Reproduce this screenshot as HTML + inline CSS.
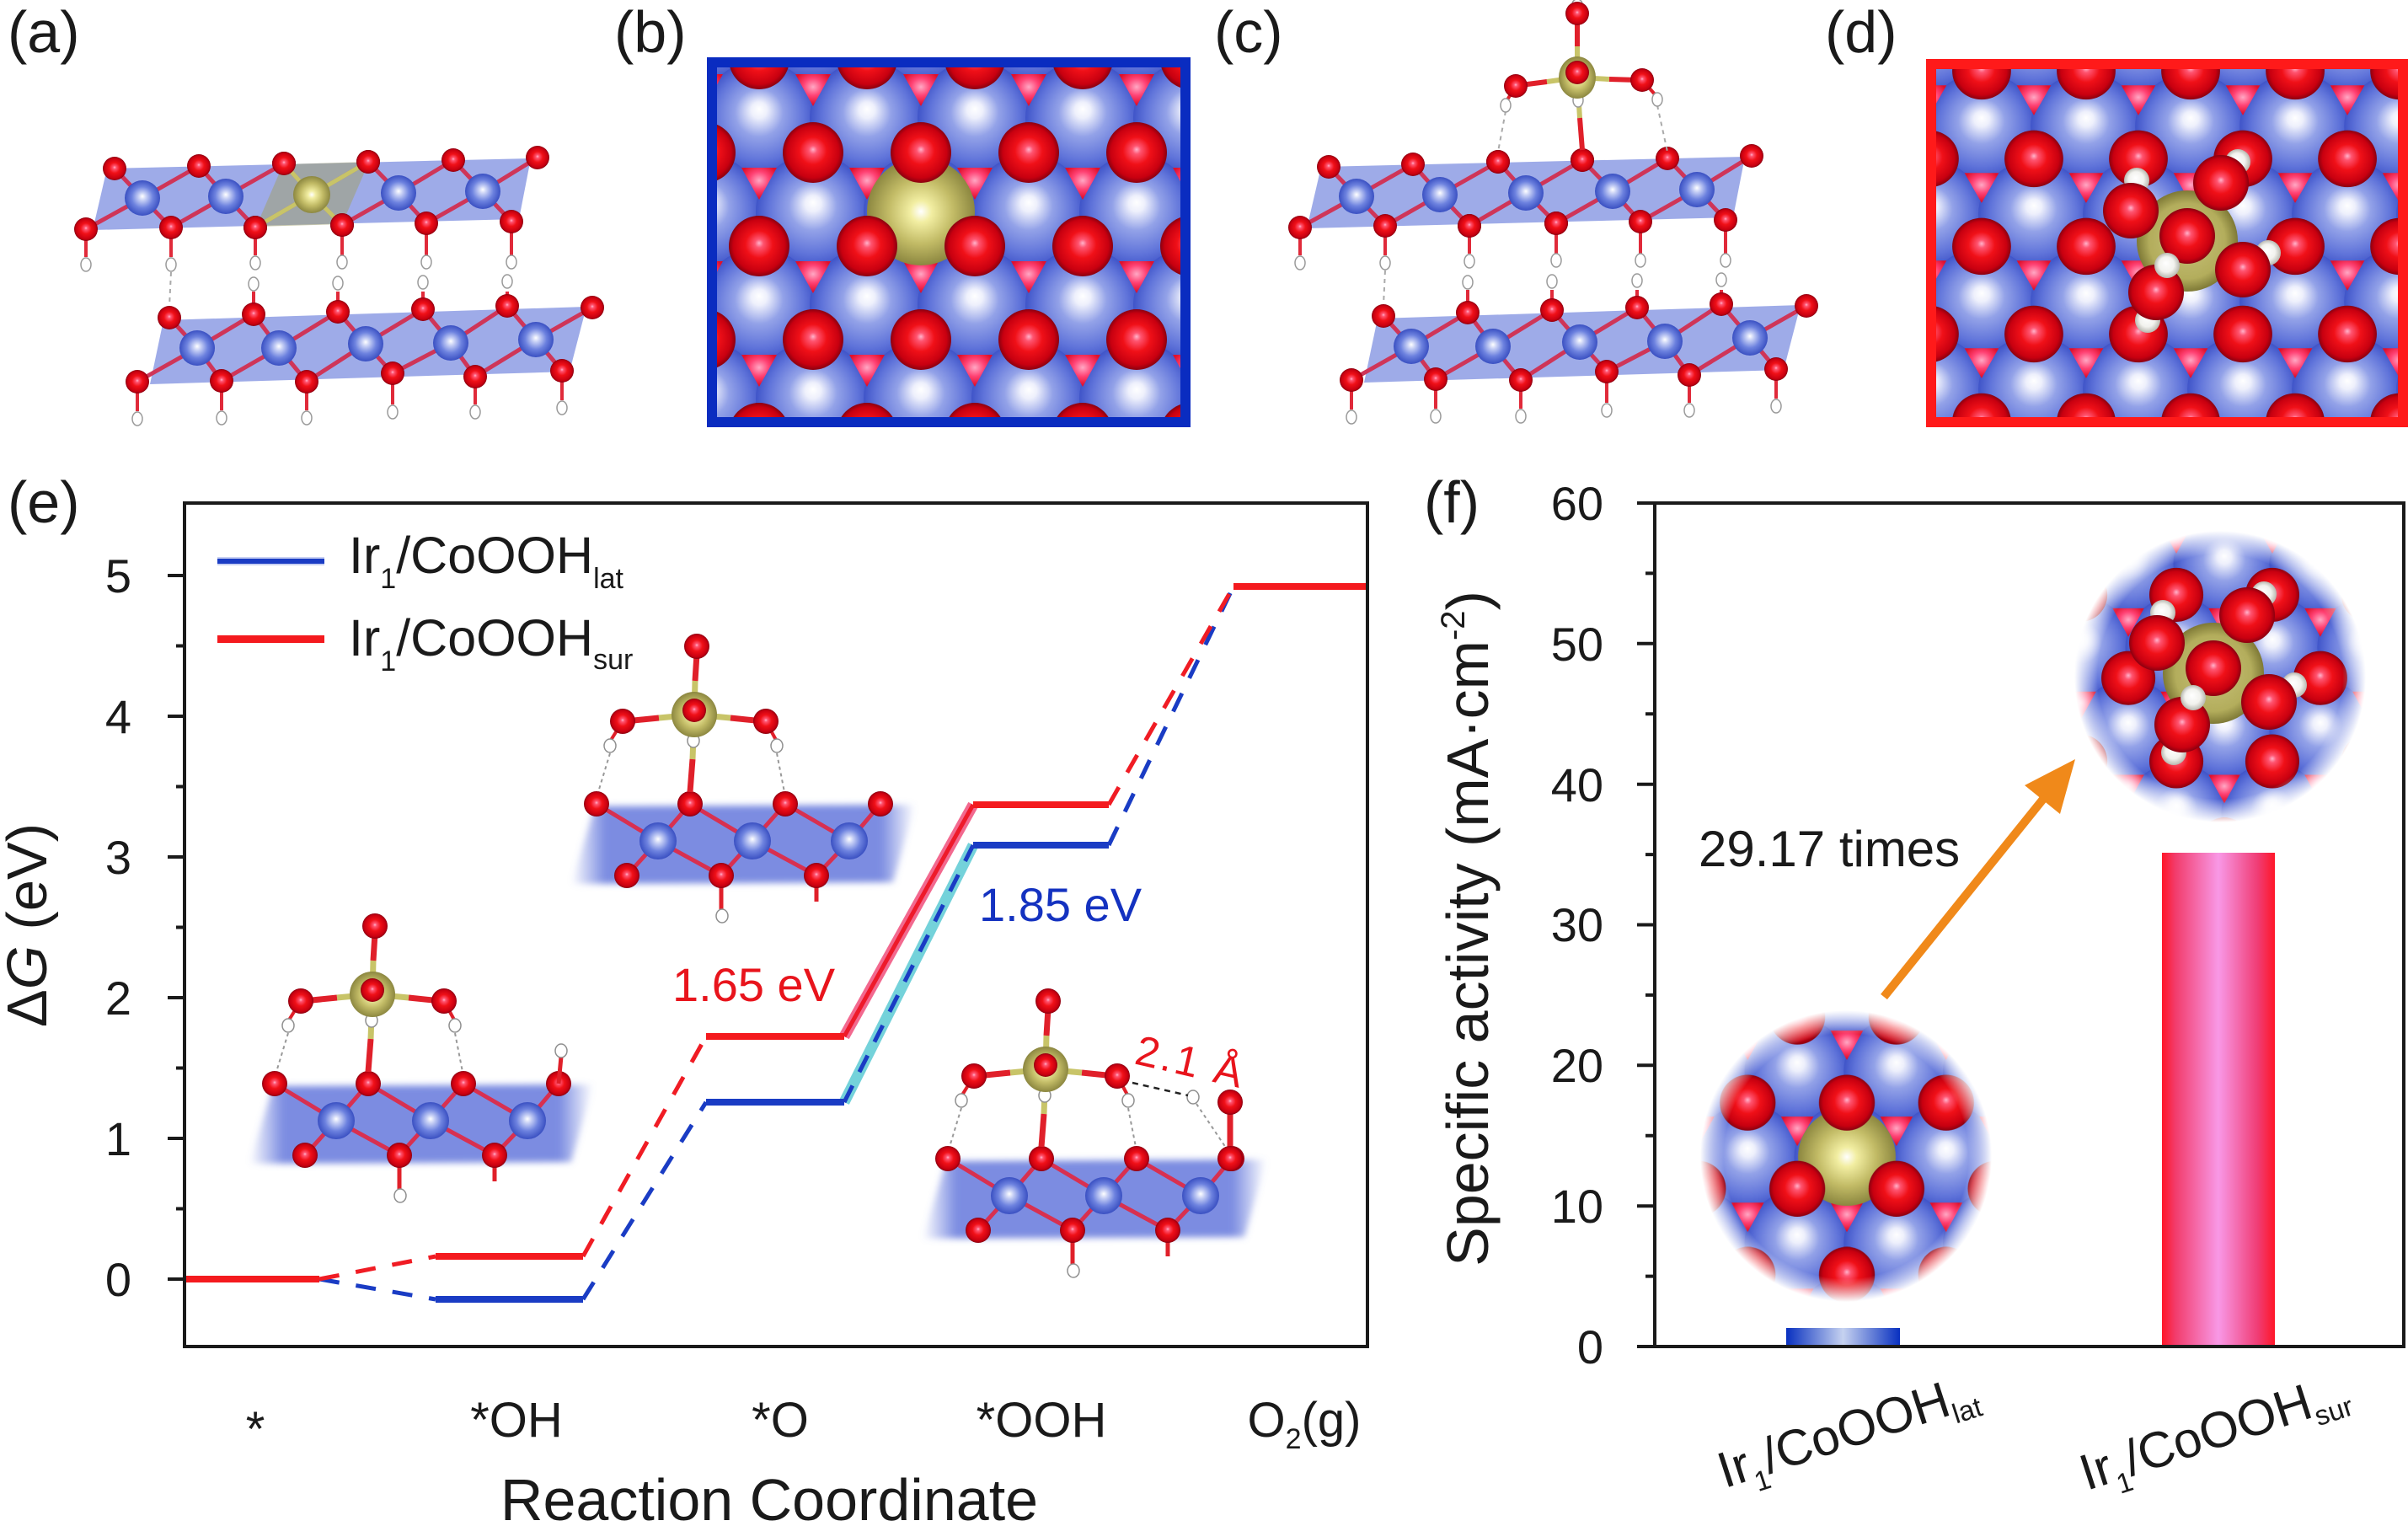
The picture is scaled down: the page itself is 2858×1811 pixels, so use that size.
<!DOCTYPE html>
<html><head><meta charset="utf-8"><style>html,body{margin:0;padding:0;background:#fff}svg{display:block}</style></head>
<body>
<svg xmlns="http://www.w3.org/2000/svg" width="2858" height="1811" viewBox="0 0 2858 1811" font-family="'Liberation Sans', Arial, sans-serif">
<defs>
 <radialGradient id="gB" cx="0.5" cy="0.5" r="0.5" fx="0.5" fy="0.42">
  <stop offset="0" stop-color="#ffffff"/><stop offset="0.14" stop-color="#eef0fc"/>
  <stop offset="0.42" stop-color="#93a2e8"/><stop offset="0.78" stop-color="#6074da"/>
  <stop offset="1" stop-color="#3f54c8"/>
 </radialGradient>
 <radialGradient id="gBs" cx="0.5" cy="0.5" r="0.5" fx="0.5" fy="0.45">
  <stop offset="0" stop-color="#ffffff"/><stop offset="0.22" stop-color="#c6cff5"/>
  <stop offset="0.6" stop-color="#6d82df"/><stop offset="1" stop-color="#3a50c2"/>
 </radialGradient>
 <radialGradient id="gR" cx="0.5" cy="0.5" r="0.5" fx="0.5" fy="0.45">
  <stop offset="0" stop-color="#ffb4cc"/><stop offset="0.14" stop-color="#ff5470"/>
  <stop offset="0.45" stop-color="#f01018"/><stop offset="0.85" stop-color="#c80010"/>
  <stop offset="1" stop-color="#8a0010"/>
 </radialGradient>
 <radialGradient id="gG" cx="0.5" cy="0.5" r="0.5" fx="0.5" fy="0.5">
  <stop offset="0" stop-color="#ffffff"/><stop offset="0.2" stop-color="#f2eea2"/>
  <stop offset="0.6" stop-color="#c2bb66"/><stop offset="1" stop-color="#8c8740"/>
 </radialGradient>
 <radialGradient id="gRing" cx="0.5" cy="0.5" r="0.5">
  <stop offset="0" stop-color="#c8c27a"/><stop offset="0.75" stop-color="#b3ad5c"/>
  <stop offset="1" stop-color="#7e7936"/>
 </radialGradient>
 <radialGradient id="gT" cx="0.5" cy="0.4" r="0.55">
  <stop offset="0" stop-color="#ffa8c4"/><stop offset="0.5" stop-color="#ff4274"/>
  <stop offset="1" stop-color="#e0102c"/>
 </radialGradient>
 <radialGradient id="gH" cx="0.5" cy="0.5" r="0.5" fx="0.45" fy="0.4">
  <stop offset="0" stop-color="#ffffff"/><stop offset="0.6" stop-color="#f2f2ee"/>
  <stop offset="1" stop-color="#b8b8b0"/>
 </radialGradient>
 <linearGradient id="gSlab" x1="0" y1="0" x2="1" y2="0">
  <stop offset="0" stop-color="#6478dc" stop-opacity="0"/>
  <stop offset="0.1" stop-color="#6478dc" stop-opacity="0.85"/>
  <stop offset="0.9" stop-color="#6478dc" stop-opacity="0.85"/>
  <stop offset="1" stop-color="#6478dc" stop-opacity="0"/>
 </linearGradient>
 <linearGradient id="gPink" x1="0" y1="0" x2="1" y2="0">
  <stop offset="0" stop-color="#ff1628"/><stop offset="0.12" stop-color="#f23c6c"/>
  <stop offset="0.5" stop-color="#f898e6"/><stop offset="0.85" stop-color="#f03c74"/>
  <stop offset="1" stop-color="#ff1628"/>
 </linearGradient>
 <linearGradient id="gBlueBar" x1="0" y1="0" x2="1" y2="0">
  <stop offset="0" stop-color="#0830c0"/><stop offset="0.5" stop-color="#c6d2f0"/>
  <stop offset="1" stop-color="#0830c0"/>
 </linearGradient>
 <radialGradient id="fade" cx="0.5" cy="0.5" r="0.5">
  <stop offset="0" stop-color="#fff"/><stop offset="0.84" stop-color="#fff"/><stop offset="1" stop-color="#000"/>
 </radialGradient>
 <filter id="soft" x="-10%" y="-30%" width="120%" height="160%"><feGaussianBlur stdDeviation="4"/></filter>
 <clipPath id="clipB"><rect x="851" y="80" width="550" height="415"/></clipPath>
 <clipPath id="clipD"><rect x="2298" y="82" width="548" height="413"/></clipPath>
 <mask id="mLat" maskUnits="userSpaceOnUse" x="1980" y="1160" width="430" height="430"><circle cx="2191" cy="1372" r="173" fill="url(#fade)"/></mask>
 <mask id="mSur" maskUnits="userSpaceOnUse" x="2420" y="590" width="430" height="430"><circle cx="2635" cy="803" r="173" fill="url(#fade)"/></mask>

 <circle id="B" r="68" fill="url(#gB)"/>
 <circle id="R" r="36" fill="url(#gR)"/>
 <polygon id="T" points="-21,-14 21,-14 0,24" fill="url(#gT)"/>
 <g id="bE"><use href="#B" x="-384"/><use href="#B" x="-256"/><use href="#B" x="-128"/><use href="#B" x="0"/><use href="#B" x="128"/><use href="#B" x="256"/><use href="#B" x="384"/></g>
 <g id="bO"><use href="#B" x="-320"/><use href="#B" x="-192"/><use href="#B" x="-64"/><use href="#B" x="64"/><use href="#B" x="192"/><use href="#B" x="320"/><use href="#B" x="448"/></g>
 <g id="tE"><use href="#T" x="-320" y="-38"/><use href="#T" x="-192" y="-38"/><use href="#T" x="-64" y="-38"/><use href="#T" x="64" y="-38"/><use href="#T" x="192" y="-38"/><use href="#T" x="320" y="-38"/><use href="#T" x="448" y="-38"/></g>
 <g id="tO"><use href="#T" x="-384" y="-38"/><use href="#T" x="-256" y="-38"/><use href="#T" x="-128" y="-38"/><use href="#T" x="0" y="-38"/><use href="#T" x="128" y="-38"/><use href="#T" x="256" y="-38"/><use href="#T" x="384" y="-38"/></g>
 <g id="rE"><use href="#R" x="-384" y="-70"/><use href="#R" x="-256" y="-70"/><use href="#R" x="-128" y="-70"/><use href="#R" x="0" y="-70"/><use href="#R" x="128" y="-70"/><use href="#R" x="256" y="-70"/><use href="#R" x="384" y="-70"/></g>
 <g id="rO"><use href="#R" x="-320" y="-70"/><use href="#R" x="-192" y="-70"/><use href="#R" x="-64" y="-70"/><use href="#R" x="64" y="-70"/><use href="#R" x="192" y="-70"/><use href="#R" x="320" y="-70"/><use href="#R" x="448" y="-70"/></g>
 <g id="latB">
  <use href="#bE" y="-222"/><use href="#bO" y="-111"/><use href="#bE" y="0"/><use href="#bO" y="111"/><use href="#bE" y="222"/><use href="#bO" y="333"/>
  <use href="#tE" y="-222"/><use href="#tO" y="-111"/><use href="#tE" y="0"/><use href="#tO" y="111"/><use href="#tE" y="222"/><use href="#tO" y="333"/>
 </g>
 <g id="latR"><use href="#rO" y="-111"/><use href="#rE" y="0"/><use href="#rO" y="111"/><use href="#rE" y="222"/><use href="#rO" y="333"/></g>

 <circle id="R2" r="33" fill="url(#gR)"/>
 <circle id="H2" r="15" fill="url(#gH)"/>
 <g id="ads">
  <use href="#H2" x="-60" y="-72"/><use href="#H2" x="96" y="14"/><use href="#H2" x="60" y="-94"/><use href="#H2" x="-47" y="94"/>
  <circle r="60" fill="url(#gRing)"/>
  <use href="#R2" x="40" y="-69"/><use href="#R2" x="-67" y="-36"/><use href="#R2" x="66" y="34"/><use href="#R2" x="-37" y="61"/>
  <use href="#R2" x="0" y="-6"/>
  <use href="#H2" x="-24" y="29"/>
 </g>

 <circle id="oS" r="14" fill="url(#gR)"/>
 <circle id="cS" r="21" fill="url(#gBs)"/>
 <ellipse id="hS" rx="6" ry="8" fill="#fff" stroke="#9a9a9a" stroke-width="1.5"/>
 <g id="sv">
  <polygon points="127,200 630,188 616,260 110,273" fill="#7d8fe0" fill-opacity="0.75"/>
  <polygon points="194,380 696,364 676,441 178,456" fill="#7d8fe0" fill-opacity="0.75"/>
  <path stroke="#cf3558" stroke-width="5" fill="none" d="M169 235L136 200M169 235L236 197M169 235L102 272M169 235L203 270M268 233L236 197M268 233L337 194M268 233L203 270M268 233L303 270M370 231L337 194M370 231L437 192M370 231L303 270M370 231L406 267M473 229L437 192M473 229L538 190M473 229L406 267M473 229L506 265M573 227L538 190M573 227L638 187M573 227L506 265M573 227L607 263M234 413L201 377M234 413L301 373M234 413L163 453M234 413L263 452M331 413L301 373M331 413L401 370M331 413L263 452M331 413L364 453M434 408L401 370M434 408L502 367M434 408L364 453M434 408L466 443M535 407L502 367M535 407L602 363M535 407L466 443M535 407L564 447M636 403L602 363M636 403L703 365M636 403L564 447M636 403L667 440"/>
  <path stroke="#e02a3a" stroke-width="4" fill="none" d="M102 280V305M203 280V305M303 280V303M406 277V303M506 275V303M607 273V303M301 363V346M401 360V346M502 357V346M602 353V346M163 463V488M263 462V487M364 463V487M466 453V480M564 457V480M667 450V475"/>
  <path stroke="#aaa" stroke-width="2" stroke-dasharray="5 5" fill="none" d="M203 323L201 364"/>
  <use href="#hS" x="102" y="314"/><use href="#hS" x="203" y="314"/><use href="#hS" x="303" y="312"/><use href="#hS" x="406" y="311"/><use href="#hS" x="506" y="311"/><use href="#hS" x="607" y="311"/>
  <use href="#hS" x="301" y="337"/><use href="#hS" x="401" y="336"/><use href="#hS" x="502" y="335"/><use href="#hS" x="602" y="334"/>
  <use href="#hS" x="163" y="497"/><use href="#hS" x="263" y="496"/><use href="#hS" x="364" y="496"/><use href="#hS" x="466" y="489"/><use href="#hS" x="564" y="489"/><use href="#hS" x="667" y="484"/>
  <use href="#cS" x="169" y="235"/><use href="#cS" x="268" y="233"/><use href="#cS" x="473" y="229"/><use href="#cS" x="573" y="227"/>
  <use href="#oS" x="102" y="272"/><use href="#oS" x="203" y="270"/><use href="#oS" x="303" y="270"/><use href="#oS" x="406" y="267"/><use href="#oS" x="506" y="265"/><use href="#oS" x="607" y="263"/>
  <use href="#oS" x="136" y="200"/><use href="#oS" x="236" y="197"/><use href="#oS" x="337" y="194"/><use href="#oS" x="437" y="192"/><use href="#oS" x="538" y="190"/><use href="#oS" x="638" y="187"/>
  <use href="#cS" x="234" y="413"/><use href="#cS" x="331" y="413"/><use href="#cS" x="434" y="408"/><use href="#cS" x="535" y="407"/><use href="#cS" x="636" y="403"/>
  <use href="#oS" x="163" y="453"/><use href="#oS" x="263" y="452"/><use href="#oS" x="364" y="453"/><use href="#oS" x="466" y="443"/><use href="#oS" x="564" y="447"/><use href="#oS" x="667" y="440"/>
  <use href="#oS" x="201" y="377"/><use href="#oS" x="301" y="373"/><use href="#oS" x="401" y="370"/><use href="#oS" x="502" y="367"/><use href="#oS" x="602" y="363"/><use href="#oS" x="703" y="365"/>
 </g>

 <circle id="o" r="15" fill="url(#gR)"/>
 <circle id="c" r="22" fill="url(#gBs)"/>
 <ellipse id="h" rx="7" ry="8" fill="#fff" stroke="#8f8f8f" stroke-width="1.5"/>
 <g id="ins">
  <polygon points="324,1289 704,1287 678,1379 296,1381" fill="url(#gSlab)" filter="url(#soft)"/>
  <path stroke="#d83050" stroke-width="5" fill="none" d="M399 1330L326 1286M399 1330L437 1286M399 1330L362 1371M399 1330L474 1371M511 1330L437 1286M511 1330L550 1286M511 1330L474 1371M511 1330L587 1371M626 1330L550 1286M626 1330L663 1286M626 1330L587 1371"/>
  <path stroke="#e0202a" stroke-width="5" fill="none" d="M474 1385V1411M587 1385V1402"/>
  <use href="#h" x="475" y="1419"/>
  <use href="#o" x="362" y="1371"/><use href="#o" x="474" y="1371"/><use href="#o" x="587" y="1371"/>
  <use href="#c" x="399" y="1330"/><use href="#c" x="511" y="1330"/><use href="#c" x="626" y="1330"/>
  <use href="#o" x="326" y="1286"/><use href="#o" x="437" y="1286"/><use href="#o" x="550" y="1286"/><use href="#o" x="663" y="1286"/>
  <path stroke="#c8c468" stroke-width="7" fill="none" d="M442 1180L440 1233M442 1180L443 1140M442 1180L400 1184M442 1180L485 1184"/>
  <path stroke="#e0202a" stroke-width="7" fill="none" d="M440 1233L437 1272M443 1140L445 1108M400 1184L360 1188M485 1184L524 1188"/>
  <path stroke="#e0202a" stroke-width="4" fill="none" d="M357 1188L342 1212M527 1188L540 1212"/>
  <path stroke="#999" stroke-width="2" stroke-dasharray="4 4" fill="none" d="M342 1226L328 1272M540 1226L549 1272"/>
  <use href="#h" x="342" y="1217"/><use href="#h" x="540" y="1217"/><use href="#h" x="441" y="1211"/>
  <circle cx="442" cy="1180" r="27" fill="url(#gG)"/>
  <circle cx="442" cy="1175" r="14" fill="url(#gR)"/>
  <use href="#o" x="445" y="1099"/><use href="#o" x="357" y="1188"/><use href="#o" x="527" y="1188"/>
 </g>
</defs>

<rect width="2858" height="1811" fill="#fff"/>

<g font-size="70" fill="#1a1a1a">
 <text x="9" y="62">(a)</text>
 <text x="729" y="62">(b)</text>
 <text x="1441" y="62">(c)</text>
 <text x="2166" y="62">(d)</text>
 <text x="9" y="620">(e)</text>
 <text x="1690" y="620">(f)</text>
</g>

<!-- (a) -->
<use href="#sv"/>
<polygon points="336,195 438,192 406,266 304,269" fill="#a0a070" fill-opacity="0.55"/>
<path stroke="#c8c468" stroke-width="5" d="M370 231L337 194M370 231L437 192M370 231L303 270M370 231L406 267"/>
<circle cx="370" cy="231" r="22" fill="url(#gG)"/>
<use href="#oS" x="337" y="194"/><use href="#oS" x="437" y="192"/><use href="#oS" x="303" y="270"/><use href="#oS" x="406" y="267"/>

<!-- (b) -->
<g clip-path="url(#clipB)">
 <rect x="851" y="80" width="550" height="415" fill="#5a6ed6"/>
 <g transform="translate(1093,251)">
  <use href="#latB"/>
  <circle r="64" fill="url(#gG)"/>
  <use href="#latR"/>
 </g>
</g>
<rect x="845" y="74" width="562" height="427" fill="none" stroke="#0a2cc0" stroke-width="12"/>

<!-- (c) -->
<g transform="translate(1441,-2)">
 <use href="#sv"/>
 <use href="#cS" x="370" y="231"/>
 <use href="#oS" x="337" y="194"/><use href="#oS" x="437" y="192"/><use href="#oS" x="303" y="270"/><use href="#oS" x="406" y="267"/>
</g>
<path stroke="#aaa" stroke-width="2" stroke-dasharray="5 5" fill="none" d="M1787 132L1778 180M1967 125L1979 180"/>
<path stroke="#c8c468" stroke-width="6" fill="none" d="M1872 92L1875 140M1872 92L1872 55M1872 92L1836 97M1872 92L1910 94"/>
<path stroke="#e0202a" stroke-width="6" fill="none" d="M1875 140L1878 178M1872 55L1872 22M1836 97L1805 101M1910 94L1944 95"/>
<path stroke="#e0202a" stroke-width="4" fill="none" d="M1799 102L1788 120M1949 95L1965 113"/>
<ellipse cx="1872" cy="5" rx="6" ry="6" fill="#fff" stroke="#9a9a9a" stroke-width="1.5"/>
<use href="#hS" x="1787" y="125"/><use href="#hS" x="1967" y="118"/><use href="#hS" x="1873" y="119"/>
<ellipse cx="1872" cy="92" rx="22" ry="25" fill="url(#gG)"/>
<use href="#oS" x="1872" y="86"/>
<use href="#oS" x="1872" y="16"/><use href="#oS" x="1799" y="102"/><use href="#oS" x="1949" y="95"/>

<!-- (d) -->
<g clip-path="url(#clipD)">
 <rect x="2298" y="82" width="548" height="413" fill="#5a6ed6"/>
 <g transform="translate(2538,254) scale(0.969,0.937)">
  <use href="#latB"/>
  <use href="#latR"/>
 </g>
 <use href="#ads" x="2596" y="286"/>
</g>
<rect x="2292" y="76" width="560" height="425" fill="none" stroke="#ff1a1a" stroke-width="12"/>

<!-- (e) insets -->
<use href="#ins"/>
<path stroke="#e0202a" stroke-width="5" d="M663 1286L666 1254"/>
<use href="#h" x="666" y="1247"/>
<use href="#ins" transform="translate(382,-332)"/>
<use href="#ins" transform="translate(799,89)"/>
<path stroke="#999" stroke-width="2" stroke-dasharray="4 4" fill="none" d="M1420 1310L1455 1362"/>
<path stroke="#e0202a" stroke-width="7" d="M1460 1368V1318"/>
<use href="#h" x="1416" y="1302"/>
<use href="#o" x="1460" y="1308"/>
<use href="#o" x="1460" y="1375"/>
<path stroke="#222" stroke-width="2.5" stroke-dasharray="7 6" fill="none" d="M1344 1285L1410 1300"/>
<text transform="translate(1345,1262) rotate(13)" font-size="50" fill="#e8141c" letter-spacing="3">2.1 Å</text>

<!-- energy levels -->
<g fill="none" stroke-linecap="butt">
 <line x1="1002" y1="1308" x2="1155" y2="1003" stroke="#74d2da" stroke-width="13"/>
 <line x1="1002" y1="1230" x2="1155" y2="955" stroke="#f2698f" stroke-width="13"/>
 <g stroke="#1a3cc4" stroke-width="5" stroke-dasharray="24 20">
  <line x1="379" y1="1518" x2="517" y2="1542"/>
  <line x1="692" y1="1542" x2="838" y2="1308"/>
  <line x1="1316" y1="1003" x2="1464" y2="696"/>
 </g>
 <line x1="1002" y1="1308" x2="1155" y2="1003" stroke="#1a3cc4" stroke-width="5" stroke-dasharray="22 18"/>
 <g stroke="#f01c24" stroke-width="5" stroke-dasharray="24 20">
  <line x1="379" y1="1518" x2="517" y2="1491"/>
  <line x1="692" y1="1491" x2="838" y2="1230"/>
  <line x1="1316" y1="955" x2="1464" y2="696"/>
 </g>
 <line x1="1002" y1="1230" x2="1155" y2="955" stroke="#ee1a2a" stroke-width="5"/>
 <g stroke="#1a3cc4" stroke-width="8">
  <line x1="517" y1="1542" x2="692" y2="1542"/>
  <line x1="838" y1="1308" x2="1002" y2="1308"/>
  <line x1="1155" y1="1003" x2="1316" y2="1003"/>
 </g>
 <g stroke="#f41a1e" stroke-width="8">
  <line x1="219" y1="1518" x2="379" y2="1518"/>
  <line x1="517" y1="1491" x2="692" y2="1491"/>
  <line x1="838" y1="1230" x2="1002" y2="1230"/>
  <line x1="1155" y1="955" x2="1316" y2="955"/>
  <line x1="1464" y1="696" x2="1623" y2="696"/>
 </g>
</g>

<!-- legend -->
<rect x="258" y="661" width="127" height="10" fill="#c8d0f2"/>
<rect x="258" y="663" width="127" height="6" fill="#1a3cc4"/>
<rect x="258" y="754" width="127" height="9" fill="#f41a1e"/>
<g font-size="61" fill="#1a1a1a">
 <text x="414" y="680">Ir<tspan font-size="34" dy="18">1</tspan><tspan dy="-18">/CoOOH</tspan><tspan font-size="34" dy="18">lat</tspan></text>
 <text x="414" y="778">Ir<tspan font-size="34" dy="18">1</tspan><tspan dy="-18">/CoOOH</tspan><tspan font-size="34" dy="16">sur</tspan></text>
</g>

<text x="798" y="1188" font-size="56" fill="#e8141c">1.65 eV</text>
<text x="1162" y="1093" font-size="56" fill="#1432c0">1.85 eV</text>

<!-- axes (e) -->
<rect x="219" y="597" width="1404" height="1001" fill="none" stroke="#1a1a1a" stroke-width="4"/>
<path stroke="#1a1a1a" stroke-width="4" fill="none" d="M199 1518H219M199 1351H219M199 1184H219M199 1017H219M199 850H219M199 683H219M209 1434.5H219M209 1267.5H219M209 1100.5H219M209 933.5H219M209 766.5H219"/>
<g font-size="56" fill="#1a1a1a" text-anchor="end">
 <text x="156" y="1538">0</text><text x="156" y="1371">1</text><text x="156" y="1204">2</text>
 <text x="156" y="1037">3</text><text x="156" y="870">4</text><text x="156" y="703">5</text>
</g>
<g font-size="58" fill="#1a1a1a" text-anchor="middle">
 <text x="303" y="1716">*</text>
 <text x="613" y="1705">*OH</text>
 <text x="926" y="1705">*O</text>
 <text x="1236" y="1705">*OOH</text>
 <text x="1548" y="1705">O<tspan font-size="34" dy="14">2</tspan><tspan dy="-14">(g)</tspan></text>
</g>
<text x="913" y="1804" font-size="70" fill="#1a1a1a" text-anchor="middle">Reaction Coordinate</text>
<text transform="translate(55,1098) rotate(-90)" font-size="67" fill="#1a1a1a" text-anchor="middle">Δ<tspan font-style="italic">G</tspan> (eV)</text>

<!-- (f) panel -->
<rect x="2566" y="1012" width="134" height="586" fill="url(#gPink)"/>
<rect x="2120" y="1576" width="135" height="22" fill="url(#gBlueBar)"/>

<g mask="url(#mLat)">
 <rect x="2010" y="1190" width="370" height="370" fill="#5a6ed6"/>
 <g transform="translate(2192,1373) scale(0.92)">
  <use href="#latB"/>
  <circle r="63" fill="url(#gG)"/>
  <use href="#latR"/>
 </g>
</g>
<g mask="url(#mSur)">
 <rect x="2455" y="620" width="370" height="370" fill="#5a6ed6"/>
 <g transform="translate(2640,867) scale(0.89)">
  <use href="#latB"/>
  <use href="#latR"/>
 </g>
 <use href="#ads" x="2627" y="799"/>
</g>

<line x1="2236" y1="1183" x2="2426" y2="947" stroke="#f0891a" stroke-width="10"/>
<polygon points="2463,901 2445,966 2403,932" fill="#f0891a"/>
<text x="2016" y="1028" font-size="60" fill="#1a1a1a">29.17 times</text>

<rect x="1964" y="597" width="889" height="1001" fill="none" stroke="#1a1a1a" stroke-width="4"/>
<path stroke="#1a1a1a" stroke-width="4" fill="none" d="M1943 1598H1964M1943 1431.2H1964M1943 1264.3H1964M1943 1097.5H1964M1943 930.7H1964M1943 763.8H1964M1943 597H1964M1953 1514.6H1964M1953 1347.7H1964M1953 1180.9H1964M1953 1014.1H1964M1953 847.2H1964M1953 680.4H1964"/>
<g font-size="56" fill="#1a1a1a" text-anchor="end">
 <text x="1903" y="1618">0</text><text x="1903" y="1451">10</text><text x="1903" y="1284">20</text>
 <text x="1903" y="1117">30</text><text x="1903" y="951">40</text><text x="1903" y="784">50</text><text x="1903" y="617">60</text>
</g>
<text transform="translate(1766,1102) rotate(-90)" font-size="70" fill="#1a1a1a" text-anchor="middle">Specific activity (mA·cm<tspan font-size="40" dy="-28">-2</tspan><tspan dy="28">)</tspan></text>
<g font-size="60" fill="#1a1a1a" text-anchor="middle">
 <text transform="translate(2199,1717) rotate(-18)">Ir<tspan font-size="33" dy="16">1</tspan><tspan dy="-16">/CoOOH</tspan><tspan font-size="33" dy="12">lat</tspan></text>
 <text transform="translate(2634,1718) rotate(-18)">Ir<tspan font-size="33" dy="16">1</tspan><tspan dy="-16">/CoOOH</tspan><tspan font-size="33" dy="12">sur</tspan></text>
</g>
</svg>
</body></html>
